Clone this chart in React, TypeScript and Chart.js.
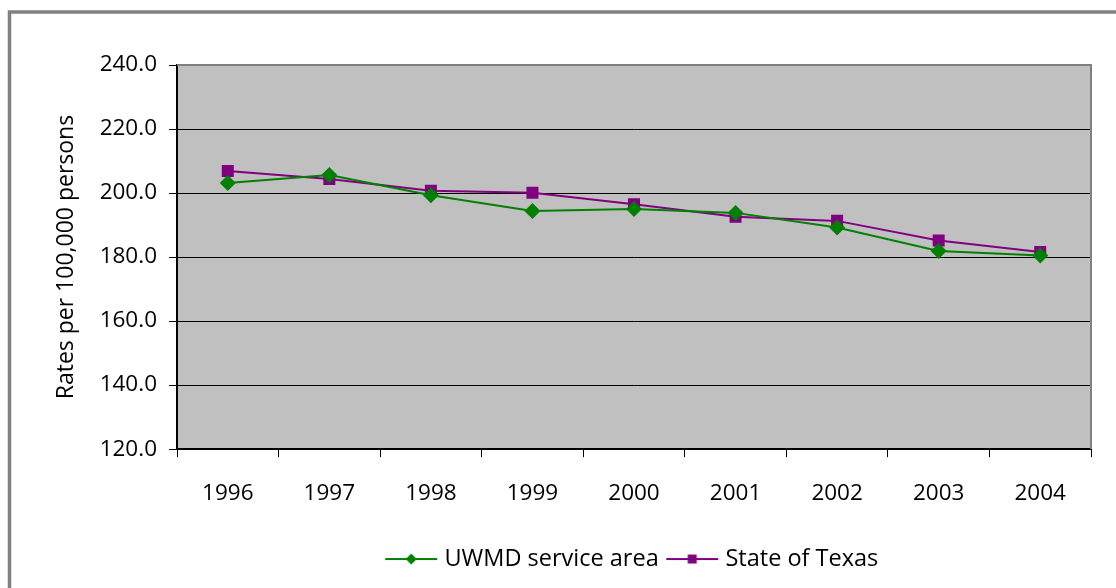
import React, { useEffect, useRef } from "react";
import { Chart, registerables } from "chart.js";

Chart.register(...registerables);

const years = ["1996", "1997", "1998", "1999", "2000", "2001", "2002", "2003", "2004"];
const uwmdValues = [203.1, 205.6, 199.3, 194.4, 195.0, 193.8, 189.2, 181.9, 180.5];
const texasValues = [206.9, 204.4, 200.7, 200.1, 196.5, 192.6, 191.3, 185.2, 181.6];
const seriesNames = ["UWMD service area", "State of Texas"];
const yTitle = "Rates per 100,000 persons";

const GREEN = "#008000";
const PURPLE = "#800080";
const FONT = "'Open Sans', 'DejaVu Sans', sans-serif";

function legendIcon(color: string, shape: "diamond" | "square"): HTMLCanvasElement {
  const c = document.createElement("canvas");
  c.width = 54;
  c.height = 14;
  const ctx = c.getContext("2d")!;
  ctx.strokeStyle = color;
  ctx.lineWidth = 2;
  ctx.beginPath();
  ctx.moveTo(1, 7);
  ctx.lineTo(53, 7);
  ctx.stroke();
  ctx.fillStyle = color;
  ctx.beginPath();
  if (shape === "diamond") {
    ctx.moveTo(27, 1.5);
    ctx.lineTo(32.5, 7);
    ctx.lineTo(27, 12.5);
    ctx.lineTo(21.5, 7);
    ctx.closePath();
  } else {
    ctx.rect(22.5, 2.5, 9, 9);
  }
  ctx.fill();
  return c;
}

const framePlugin = {
  id: "frame",
  afterLayout(chart: any) {
    const lg = chart.legend;
    if (lg) {
      lg.left = chart.chartArea.left;
      lg.right = chart.chartArea.right;
    }
  },
  beforeDraw(chart: any) {
    const { ctx, width, height, chartArea } = chart;
    ctx.save();
    ctx.fillStyle = "#ffffff";
    ctx.fillRect(0, 0, width, height);
    ctx.strokeStyle = "#808080";
    ctx.lineWidth = 3.5;
    ctx.strokeRect(9.5, 12, width + 20, height + 20);
    ctx.fillStyle = "#c0c0c0";
    ctx.fillRect(chartArea.left, chartArea.top, chartArea.right - chartArea.left, chartArea.bottom - chartArea.top);
    ctx.restore();
  },
  afterDraw(chart: any) {
    const { ctx, chartArea } = chart;
    ctx.save();
    ctx.strokeStyle = "#808080";
    ctx.lineWidth = 2;
    ctx.beginPath();
    ctx.moveTo(chartArea.left, chartArea.top);
    ctx.lineTo(chartArea.right, chartArea.top);
    ctx.lineTo(chartArea.right, chartArea.bottom);
    ctx.stroke();
    ctx.restore();
  },
};

export default function App() {
  const ref = useRef<HTMLCanvasElement | null>(null);

  useEffect(() => {
    if (!ref.current) return;
    const icons = [legendIcon(GREEN, "diamond"), legendIcon(PURPLE, "square")];
    const chart = new Chart(ref.current, {
      type: "line",
      data: {
        labels: years,
        datasets: [
          {
            label: seriesNames[0],
            data: uwmdValues,
            borderColor: GREEN,
            backgroundColor: GREEN,
            borderWidth: 2,
            pointStyle: "rectRot",
            pointRadius: 8,
            pointBorderWidth: 0,
            tension: 0,
          },
          {
            label: seriesNames[1],
            data: texasValues,
            borderColor: PURPLE,
            backgroundColor: PURPLE,
            borderWidth: 2,
            pointStyle: "rect",
            pointRadius: 8.5,
            pointBorderWidth: 0,
            tension: 0,
          },
        ],
      },
      options: {
        animation: false,
        responsive: false,
        maintainAspectRatio: false,
        layout: { padding: { left: 52, top: 65, right: 25, bottom: 7.2 } },
        plugins: {
          tooltip: { enabled: false },
          legend: {
            position: "bottom",
            labels: {
              usePointStyle: true,
              pointStyleWidth: 43,
              padding: 12,
              color: "#000",
              font: { family: FONT, size: 23.5 },
              generateLabels: (chart: any) =>
                chart.data.datasets.map((ds: any, i: number) => ({
                  text: ds.label,
                  pointStyle: icons[i],
                  fillStyle: ds.borderColor,
                  strokeStyle: ds.borderColor,
                  lineWidth: 0,
                  hidden: false,
                  datasetIndex: i,
                  fontColor: "#000",
                })),
            },
          },
        },
        scales: {
          x: {
            offset: true,
            grid: {
              offset: true,
              drawOnChartArea: false,
              drawTicks: true,
              tickLength: 8,
              color: "#000",
            },
            border: { color: "#000", width: 2 },
            ticks: { color: "#000", padding: 23, font: { family: FONT, size: 22.5 }, maxRotation: 0 },
            afterFit: (scale: any) => {
              scale.height = 86.2;
            },
          },
          y: {
            min: 120,
            max: 240,
            grid: { color: "#000", lineWidth: 1, tickLength: 8, drawTicks: true },
            border: { color: "#000", width: 2 },
            ticks: {
              stepSize: 20,
              color: "#000",
              padding: 12,
              font: { family: FONT, size: 22.5 },
              callback: (v: any) => Number(v).toFixed(1),
            },
            title: {
              display: true,
              text: yTitle,
              color: "#000",
              font: { family: FONT, size: 23 },
              padding: { top: 1, bottom: 0 },
            },
            afterFit: (scale: any) => {
              scale.width = 125;
            },
          },
        },
      },
      plugins: [framePlugin],
    });
    return () => chart.destroy();
  }, []);

  return (
    <div style={{ position: "fixed", left: 0, top: 0, width: 1116, height: 588 }}>
      <canvas ref={ref} width={1116} height={588} style={{ width: 1116, height: 588, display: "block" }} />
    </div>
  );
}
